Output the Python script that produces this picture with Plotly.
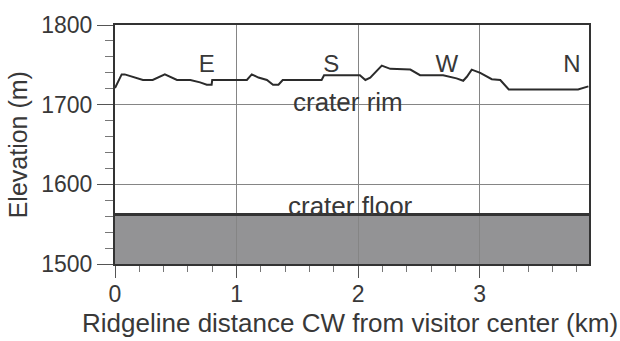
import plotly.graph_objects as go

# Ridgeline elevation profile, clockwise from the visitor center
distance_km = [0.00, 0.055, 0.08, 0.23, 0.31, 0.41, 0.51, 0.62, 0.70, 0.755,
               0.795, 0.80, 1.085, 1.125, 1.18, 1.25, 1.30, 1.345, 1.38, 1.70,
               1.72, 2.015, 2.06, 2.10, 2.195, 2.265, 2.43, 2.51, 2.70, 2.81,
               2.865, 2.895, 2.935, 3.005, 3.10, 3.17, 3.24, 3.81, 3.895]
rim_elev_m = [1721, 1738, 1738, 1731, 1731, 1738, 1731, 1731, 1728, 1725,
              1725, 1731, 1731, 1738, 1734, 1731, 1725, 1725, 1731, 1731,
              1737, 1737, 1731, 1734, 1749, 1745, 1744, 1737, 1737, 1733,
              1730, 1735, 1744, 1740, 1732, 1731, 1719, 1719, 1723]

# Crater floor level and the x extent of the profile
floor_elev_m = 1562
x_extent_km = [0.0, 3.9]
y_extent_m = [1500, 1800]

# Compass direction markers along the ridge
dir_labels = ["E", "S", "W", "N"]
dir_km = [0.755, 1.78, 2.73, 3.76]
dir_elev_m = [1749, 1749, 1749, 1749]

x_ticks = [0, 1, 2, 3]
y_ticks = [1500, 1600, 1700, 1800]

FONT = "Liberation Sans, Arial, Helvetica, sans-serif"
TXT = "#383838"
INK = "#2b2b2b"
GRID = "#858585"

fig = go.Figure()

# crater floor line
fig.add_trace(go.Scatter(
    x=x_extent_km, y=[floor_elev_m, floor_elev_m], mode="lines",
    line=dict(color="#333333", width=3), hoverinfo="skip", showlegend=False,
    cliponaxis=False,
))

# crater rim profile
fig.add_trace(go.Scatter(
    x=distance_km, y=rim_elev_m, mode="lines",
    line=dict(color=INK, width=2), showlegend=False,
))

# direction letters
fig.add_trace(go.Scatter(
    x=dir_km, y=dir_elev_m, mode="text", text=dir_labels,
    textposition="middle center",
    textfont=dict(family=FONT, size=24, color=TXT),
    showlegend=False, hoverinfo="skip",
))

# shaded region below the crater floor (under the grid)
fig.add_shape(type="rect", xref="x", yref="y",
              x0=x_extent_km[0], x1=x_extent_km[1],
              y0=y_extent_m[0], y1=floor_elev_m,
              fillcolor="#939395", line=dict(width=0), layer="below")

fig.add_annotation(x=1.92, y=1703, xref="x", yref="y", text="crater rim",
                   showarrow=False, font=dict(family=FONT, size=26, color=TXT),
                   xanchor="center", yanchor="middle")
fig.add_annotation(x=1.94, y=1573, xref="x", yref="y", text="crater floor",
                   showarrow=False, font=dict(family=FONT, size=26, color=TXT),
                   xanchor="center", yanchor="middle")

# axis titles
fig.add_annotation(x=0.496, y=-0.245, xref="paper", yref="paper",
                   text="Ridgeline distance CW from visitor center (km)",
                   showarrow=False, font=dict(family=FONT, size=26, color=TXT),
                   xanchor="center", yanchor="middle")
fig.add_annotation(x=-0.205, y=0.50, xref="paper", yref="paper",
                   text="Elevation (m)", textangle=-90,
                   showarrow=False, font=dict(family=FONT, size=25, color=TXT),
                   xanchor="center", yanchor="middle")

fig.update_xaxes(
    range=x_extent_km, tickvals=x_ticks, ticktext=[str(v) for v in x_ticks],
    showgrid=True, gridcolor=GRID, gridwidth=1, zeroline=False,
    showline=True, linecolor="#333333", linewidth=2, mirror=True,
    ticks="outside", ticklen=12, tickwidth=1, tickcolor="#555555",
    ticklabelstandoff=-4,
    tickfont=dict(family=FONT, size=23, color=TXT),
    minor=dict(dtick=0.2, tick0=0, ticks="outside", ticklen=6,
               tickcolor="#777777", showgrid=False),
)
fig.update_yaxes(
    range=y_extent_m, tickvals=y_ticks, ticktext=[str(v) for v in y_ticks],
    showgrid=True, gridcolor=GRID, gridwidth=1, zeroline=False,
    showline=True, linecolor="#333333", linewidth=2, mirror=True,
    ticks="outside", ticklen=16, tickwidth=1, tickcolor="#555555",
    tickfont=dict(family=FONT, size=23, color=TXT),
    minor=dict(dtick=20, tick0=1500, ticks="outside", ticklen=8,
               tickcolor="#777777", showgrid=False),
)

fig.update_layout(
    width=620, height=341,
    margin=dict(l=115, r=31, t=19, b=77),
    paper_bgcolor="white", plot_bgcolor="white",
    font=dict(family=FONT, color=TXT),
)

fig.write_html("out.html")
